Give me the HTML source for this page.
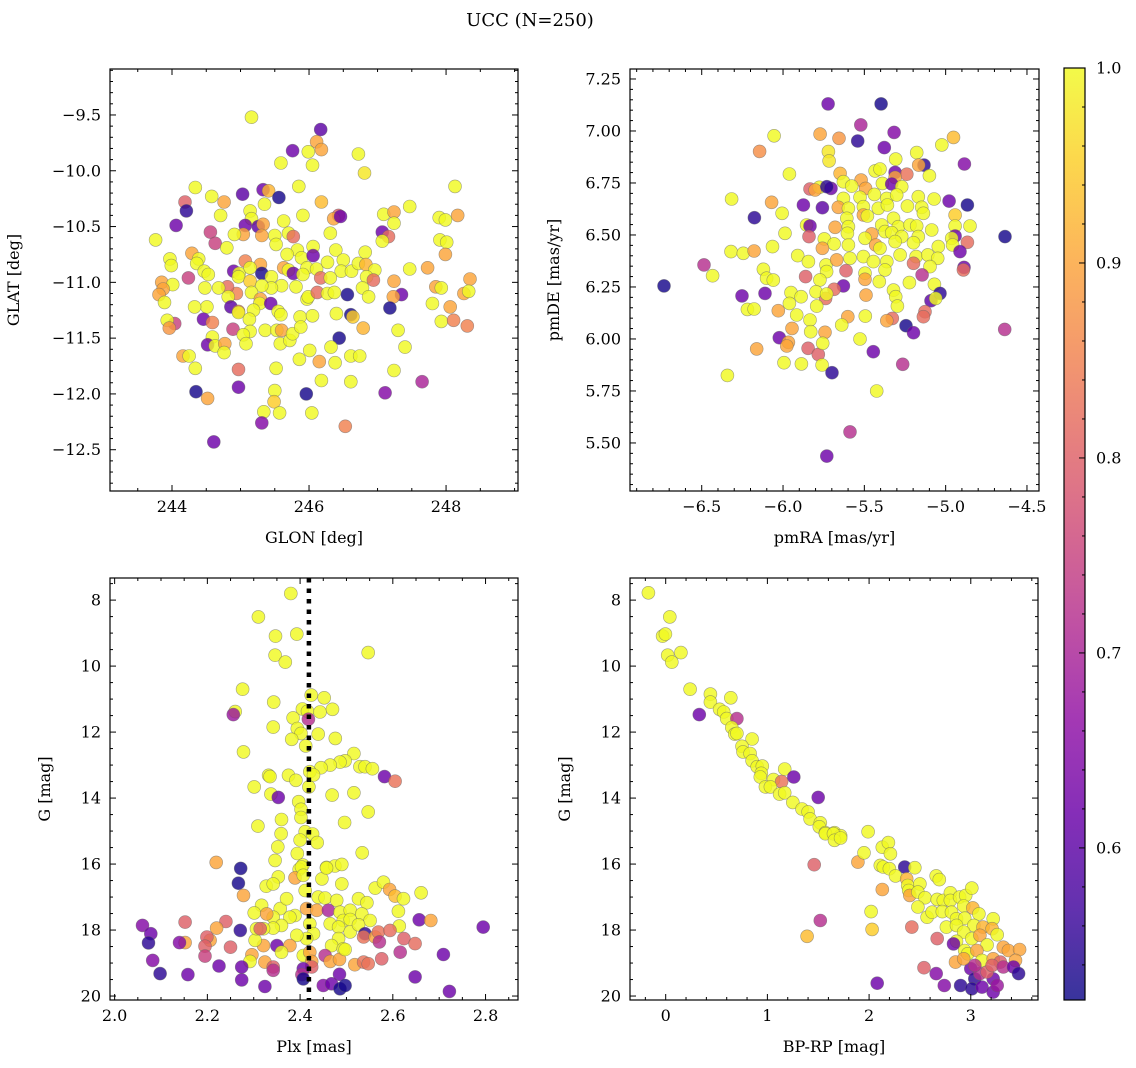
<!DOCTYPE html>
<html><head><meta charset="utf-8"><style>
html,body{margin:0;padding:0;background:#fff;}
svg{display:block;font-family:"DejaVu Serif","Liberation Serif",serif;}
</style></head><body>
<svg id="fig" width="1136" height="1068" viewBox="0 0 1136 1068" xmlns="http://www.w3.org/2000/svg">
<text x="530" y="26" text-anchor="middle" font-size="18">UCC (N=250)</text>
</svg>
<script>
// ---- Panel 1: GLON / GLAT ----
const glon=[245.16,246.17,246.11,246.18,245.76,245.99,245.59,246.05,246.72,246.81,244.34,245.85,245.03,245.33,245.41,245.56,244.58,244.76,244.19,244.21,245.35,246.18,244.71,245.91,246.43,246.36,246.46,244.06,243.76,244.56,244.63,245.14,245.16,245.07,245.04,244.91,245.26,245.33,245.31,245.50,245.52,245.63,245.70,245.77,246.31,244.80,244.29,244.39,243.97,243.99,244.36,244.47,244.53,244.24,243.85,244.01,243.87,243.81,243.89,245.07,245.29,244.90,244.98,245.31,245.14,244.97,245.14,245.45,245.63,245.70,245.77,245.83,245.68,245.89,246.06,246.06,245.97,246.11,246.27,246.39,246.50,246.47,246.62,246.72,246.82,246.83,246.96,246.84,246.94,246.17,246.31,245.91,245.81,245.60,245.45,245.31,245.16,244.94,244.81,244.68,244.48,244.82,244.51,244.33,244.86,244.97,244.97,245.29,245.28,245.44,245.19,245.13,245.55,245.59,245.87,245.97,245.99,246.05,246.12,246.27,246.37,246.56,246.78,246.87,246.40,246.61,246.64,246.79,244.46,244.59,244.04,243.93,243.96,244.89,245.14,245.04,245.36,245.53,245.60,245.58,245.72,245.76,245.88,244.59,244.52,244.63,244.77,244.76,245.08,246.44,246.32,247.30,247.40,246.61,246.74,246.38,246.15,246.01,245.86,244.16,244.25,244.34,244.97,245.52,246.18,246.61,247.24,244.35,244.52,244.97,245.50,245.49,245.96,245.34,245.57,246.04,245.31,246.53,244.61,247.11,247.65,247.07,247.16,247.07,247.09,247.24,247.24,247.47,248.13,247.90,247.99,248.17,247.91,248.01,247.99,247.47,247.73,247.24,247.35,247.23,247.18,247.85,247.93,247.80,248.06,248.35,248.26,248.33,247.93,248.11,248.31];
const glat=[-9.52,-9.63,-9.74,-9.81,-9.82,-9.83,-9.93,-9.95,-9.85,-10.02,-10.15,-10.14,-10.21,-10.17,-10.18,-10.24,-10.23,-10.28,-10.28,-10.36,-10.30,-10.28,-10.40,-10.40,-10.40,-10.43,-10.41,-10.49,-10.62,-10.55,-10.65,-10.36,-10.43,-10.49,-10.57,-10.57,-10.50,-10.48,-10.58,-10.58,-10.66,-10.45,-10.56,-10.59,-10.56,-10.69,-10.74,-10.79,-10.79,-10.85,-10.83,-10.90,-10.93,-10.96,-11.00,-11.02,-11.06,-11.11,-11.18,-10.81,-10.84,-10.90,-10.92,-10.92,-10.87,-10.95,-10.99,-10.95,-10.87,-10.89,-10.92,-10.71,-10.75,-10.78,-10.68,-10.76,-10.87,-10.88,-10.82,-10.71,-10.80,-10.90,-10.90,-10.83,-10.73,-10.84,-10.89,-10.95,-10.98,-10.96,-10.96,-10.93,-11.04,-11.03,-11.05,-11.03,-11.09,-11.10,-11.04,-11.05,-11.05,-11.13,-11.22,-11.22,-11.22,-11.26,-11.27,-11.15,-11.19,-11.19,-11.25,-11.33,-11.26,-11.29,-11.31,-11.15,-11.13,-11.30,-11.09,-11.10,-11.09,-11.11,-11.05,-11.13,-11.28,-11.29,-11.31,-11.41,-11.33,-11.36,-11.37,-11.34,-11.41,-11.42,-11.44,-11.47,-11.43,-11.43,-11.43,-11.55,-11.52,-11.46,-11.40,-11.49,-11.56,-11.57,-11.55,-11.63,-11.55,-11.50,-11.58,-11.43,-11.58,-11.66,-11.66,-11.72,-11.71,-11.61,-11.69,-11.66,-11.66,-11.77,-11.78,-11.77,-11.88,-11.89,-11.79,-11.98,-12.04,-11.94,-11.97,-12.07,-12.00,-12.16,-12.17,-12.17,-12.26,-12.29,-12.43,-11.99,-11.89,-10.55,-10.59,-10.63,-10.39,-10.37,-10.47,-10.32,-10.14,-10.42,-10.44,-10.40,-10.62,-10.64,-10.75,-10.88,-10.87,-10.99,-11.11,-11.13,-11.23,-11.04,-11.05,-11.19,-11.22,-10.97,-11.10,-11.08,-11.35,-11.34,-11.39];
const prob1=[1,0.6,0.9,0.9,0.62,1,1,1,1,0.98,1,1,0.6,0.62,0.92,0.53,1,0.9,0.8,0.55,1,0.93,1,1,0.8,0.9,0.62,0.62,1,0.75,0.75,1,1,0.62,0.9,1,0.6,0.9,0.9,1,1,1,1,0.82,1,1,0.9,1,1,1,1,1,1,0.75,0.9,1,0.9,0.9,1,0.85,0.9,0.62,1,0.53,1,1,0.95,1,0.9,1,0.62,1,1,1,1,0.62,1,1,1,1,1,1,1,1,1,0.92,1,1,0.82,0.82,1,1,1,1,1,1,1,0.85,0.82,1,1,1,1,1,0.6,0.85,1,0.9,1,0.62,1,1,1,1,1,1,1,1,0.82,1,1,0.53,1,1,1,0.53,0.95,0.92,0.62,0.85,0.75,1,0.88,0.75,1,1,1,1,0.9,1,1,1,1,1,0.62,1,0.9,1,1,0.53,1,1,1,1,1,1,0.9,1,1,0.9,1,1,0.82,1,1,1,1,0.53,0.9,0.62,1,0.95,0.53,1,1,1,0.65,0.85,0.62,0.65,0.7,0.62,0.82,1,1,0.9,1,1,1,1,1,0.9,1,1,0.9,1,0.9,0.9,0.62,0.9,0.53,0.9,1,1,0.9,0.9,0.9,1,1,0.85,0.85];

// ---- Panel 2: pmRA / pmDE ----
const pmra=[-5.723,-5.397,-5.522,-5.317,-6.055,-5.772,-5.656,-5.541,-5.377,-4.952,-5.024,-6.144,-5.721,-5.717,-5.307,-5.178,-5.133,-5.166,-4.885,-5.961,-5.649,-5.434,-5.404,-5.311,-5.239,-5.100,-5.311,-5.629,-5.520,-5.389,-5.332,-5.270,-5.834,-5.777,-5.803,-5.705,-5.731,-5.578,-5.492,-6.316,-6.070,-5.875,-5.758,-5.629,-5.527,-5.438,-5.362,-5.301,-5.168,-5.071,-4.979,-4.866,-6.006,-6.176,-5.660,-5.598,-5.506,-5.414,-5.358,-5.235,-5.147,-5.137,-4.942,-5.506,-5.481,-5.608,-5.321,-5.855,-5.834,-5.680,-5.598,-5.393,-5.291,-5.219,-5.178,-5.086,-4.942,-4.850,-4.635,-5.988,-5.840,-5.604,-5.455,-5.496,-5.373,-5.332,-5.270,-5.168,-4.942,-4.963,-5.746,-5.686,-6.320,-6.244,-6.178,-6.065,-5.758,-5.598,-5.430,-5.404,-5.311,-5.198,-5.045,-4.957,-4.866,-4.912,-6.486,-6.433,-6.732,-5.910,-5.844,-5.736,-5.670,-5.588,-5.506,-5.444,-5.362,-5.280,-5.182,-5.110,-5.049,-5.198,-5.096,-4.887,-4.891,-6.121,-6.101,-6.060,-5.861,-5.732,-5.613,-5.496,-5.373,-5.773,-5.496,-5.408,-5.223,-5.145,-5.069,-5.035,-5.090,-5.061,-5.629,-5.686,-5.738,-5.797,-5.951,-5.889,-5.732,-5.490,-5.321,-5.307,-5.297,-6.252,-6.111,-6.219,-6.178,-6.029,-5.961,-5.916,-5.793,-5.834,-5.602,-5.494,-5.328,-5.362,-5.127,-5.137,-5.639,-5.945,-5.830,-5.742,-5.244,-5.198,-4.637,-6.023,-5.967,-5.977,-6.162,-5.846,-5.783,-5.756,-5.527,-5.445,-5.994,-5.887,-5.760,-5.699,-5.264,-6.342,-5.424,-5.588,-5.731];
const pmde=[7.130,7.130,7.029,6.993,6.977,6.985,6.965,6.952,6.920,6.969,6.933,6.902,6.901,6.856,6.865,6.896,6.836,6.836,6.841,6.793,6.796,6.808,6.817,6.801,6.792,6.785,6.777,6.756,6.764,6.748,6.745,6.732,6.721,6.729,6.716,6.724,6.732,6.735,6.724,6.673,6.657,6.644,6.631,6.676,6.681,6.695,6.676,6.692,6.684,6.673,6.663,6.644,6.604,6.583,6.633,6.628,6.636,6.628,6.644,6.639,6.633,6.604,6.596,6.596,6.591,6.580,6.580,6.548,6.543,6.537,6.540,6.548,6.540,6.548,6.543,6.524,6.543,6.543,6.492,6.508,6.492,6.508,6.505,6.484,6.516,6.511,6.492,6.492,6.495,6.484,6.481,6.457,6.420,6.412,6.423,6.444,6.436,6.452,6.452,6.436,6.468,6.463,6.444,6.452,6.465,6.420,6.356,6.304,6.255,6.401,6.372,6.356,6.380,6.388,6.396,6.372,6.372,6.404,6.396,6.404,6.388,6.364,6.348,6.344,6.332,6.335,6.292,6.283,6.300,6.324,6.328,6.316,6.332,6.284,6.287,6.276,6.271,6.308,6.263,6.219,6.184,6.195,6.255,6.239,6.195,6.227,6.223,6.203,6.216,6.211,6.235,6.203,6.158,6.207,6.219,6.142,6.144,6.136,6.171,6.115,6.158,6.091,6.107,6.110,6.099,6.088,6.131,6.107,6.067,6.051,6.035,6.032,6.064,6.030,6.046,6.006,5.984,5.966,5.952,5.955,5.926,5.979,6.000,5.939,5.886,5.880,5.875,5.838,5.878,5.825,5.750,5.553,5.437];
const prob2=[0.62,0.53,0.7,0.65,1,0.9,0.88,0.55,0.62,0.93,1,0.87,0.98,0.98,1,1,0.55,0.9,0.65,1,0.92,1,1,0.62,0.83,1,0.9,1,0.9,1,0.62,1,0.8,1,0.9,0.62,0.55,1,0.9,1,0.9,0.62,0.6,1,1,1,1,1,1,1,0.62,0.53,1,0.55,0.9,1,1,1,1,1,1,1,0.95,0.9,1,1,1,1,0.62,0.9,1,1,1,1,1,1,1,1,0.53,1,0.8,1,0.9,1,1,1,1,1,0.62,1,1,1,1,1,0.9,1,0.9,1,0.9,1,1,1,1,1,0.82,0.62,0.72,1,0.53,1,1,1,0.9,1,1,1,1,1,1,1,1,0.82,1,0.62,0.82,1,1,1,0.8,1,0.8,1,1,1,0.9,1,1,0.72,1,0.55,0.6,1,0.62,0.82,0.82,1,1,1,1,0.9,1,1,1,0.62,0.62,1,1,0.9,1,1,1,1,0.9,1,0.82,0.9,0.82,0.82,1,0.9,1,0.9,0.53,0.62,0.72,0.62,0.9,0.9,0.9,0.8,0.8,1,1,0.62,1,1,1,0.55,0.72,1,1,0.72,0.62];

// ---- Panel 3: Plx / G ----
const plx=[2.380,2.310,2.347,2.393,2.547,2.346,2.368,2.276,2.424,2.452,2.343,2.260,2.256,2.405,2.416,2.443,2.470,2.385,2.418,2.342,2.394,2.402,2.439,2.382,2.476,2.412,2.278,2.516,2.497,2.486,2.465,2.445,2.421,2.429,2.529,2.540,2.556,2.582,2.605,2.332,2.335,2.375,2.391,2.301,2.419,2.337,2.353,2.469,2.516,2.397,2.402,2.402,2.547,2.360,2.496,2.309,2.411,2.427,2.359,2.400,2.437,2.352,2.394,2.534,2.219,2.272,2.406,2.398,2.457,2.475,2.490,2.267,2.278,2.353,2.327,2.342,2.389,2.403,2.407,2.411,2.447,2.457,2.490,2.439,2.454,2.479,2.526,2.544,2.562,2.580,2.593,2.605,2.623,2.661,2.612,2.614,2.657,2.682,2.795,2.317,2.301,2.357,2.371,2.389,2.378,2.342,2.328,2.360,2.342,2.321,2.414,2.436,2.421,2.429,2.461,2.486,2.508,2.533,2.493,2.508,2.551,2.465,2.483,2.508,2.526,2.540,2.537,2.562,2.569,2.594,2.571,2.624,2.648,2.616,2.709,2.483,2.468,2.493,2.414,2.393,2.378,2.350,2.321,2.303,2.360,2.306,2.271,2.314,2.296,2.292,2.324,2.342,2.342,2.407,2.421,2.425,2.425,2.407,2.404,2.407,2.454,2.465,2.485,2.497,2.518,2.537,2.547,2.576,2.485,2.450,2.468,2.486,2.497,2.324,2.274,2.274,2.225,2.250,2.240,2.220,2.206,2.199,2.195,2.195,2.152,2.152,2.140,2.060,2.078,2.073,2.082,2.098,2.158,2.648,2.722,2.346];
const gmag3=[7.80,8.51,9.09,9.03,9.59,9.67,9.88,10.70,10.88,10.96,11.09,11.38,11.47,11.30,11.37,11.39,11.31,11.57,11.61,11.85,11.89,12.04,12.06,12.22,12.19,12.42,12.60,12.65,12.87,12.91,13.00,13.08,13.20,13.30,13.05,13.05,13.11,13.35,13.49,13.31,13.35,13.31,13.46,13.66,13.66,13.88,13.98,13.91,13.84,14.11,14.34,14.59,14.42,14.65,14.74,14.85,15.02,15.09,15.08,15.27,15.35,15.48,15.68,15.66,15.95,16.13,16.03,16.16,16.10,16.06,16.01,16.58,16.95,16.39,16.67,16.60,16.42,16.09,16.34,16.80,16.45,16.12,16.60,17.00,17.03,17.10,17.05,17.17,16.73,16.55,16.77,16.97,17.05,16.87,17.43,17.88,17.69,17.71,17.91,17.25,17.48,17.35,17.05,17.56,17.61,17.61,17.51,17.86,17.94,17.96,17.35,17.40,17.81,18.11,17.40,17.46,17.40,17.51,17.71,17.68,17.71,17.81,17.91,18.06,17.84,18.11,18.21,18.21,18.06,18.01,18.36,18.26,18.41,18.67,18.74,18.26,18.47,18.57,18.26,18.16,18.47,18.47,18.47,18.31,18.67,17.96,18.01,17.96,18.75,18.95,18.97,19.12,19.22,18.77,18.67,18.95,19.12,19.17,19.35,19.48,18.77,18.95,18.89,18.59,19.05,18.97,19.02,18.87,19.34,19.68,19.63,19.78,19.68,19.71,19.12,19.51,19.09,18.52,17.74,17.94,18.31,18.21,18.49,18.79,17.76,18.38,18.38,17.86,18.11,18.39,18.92,19.32,19.35,19.42,19.86,15.89];
const prob3=[1,1,1,1,1,1,1,1,1,1,1,1,0.68,1,1,1,1,1,0.72,1,1,1,1,1,1,1,1,1,1,1,1,1,1,1,1,1,1,0.62,0.83,1,1,1,1,1,1,1,0.62,1,1,1,1,1,1,1,1,1,1,1,1,1,1,1,1,1,0.9,0.53,1,1,1,1,1,0.53,0.9,1,1,1,0.9,1,1,1,1,1,1,1,1,1,1,1,1,1,0.9,0.93,1,1,1,1,0.62,0.9,0.62,1,1,1,1,1,1,1,0.9,1,1,1,0.9,0.9,1,1,0.7,1,1,1,1,1,1,1,1,1,1,0.55,0.83,0.9,0.83,0.82,0.72,0.8,0.82,0.72,0.62,1,1,1,1,1,0.9,0.62,0.9,1,1,1,0.55,0.8,0.9,1,0.9,0.8,0.72,1,0.9,0.9,0.8,0.62,0.72,0.53,0.72,0.9,0.9,1,0.9,0.83,0.83,0.8,0.62,0.65,0.62,0.53,0.53,0.62,0.62,0.62,0.62,0.8,0.8,0.9,0.9,0.8,0.8,0.75,0.8,0.9,0.65,0.65,0.62,0.55,0.65,0.55,0.62,0.62,0.62,1];

// ---- Panel 4: BP-RP / G ----
const bprp=[-0.17,0.04,-0.03,-0.003,0.02,0.15,0.06,0.24,0.44,0.44,0.64,0.33,0.53,0.57,0.60,0.70,0.65,0.68,0.70,0.85,0.75,0.76,0.83,0.85,0.90,0.95,0.94,0.93,1.06,1.14,1.17,1.26,0.98,1.03,1.12,1.17,1.25,1.50,1.34,1.40,1.42,1.52,1.51,1.57,1.66,1.72,1.99,1.57,1.65,1.66,1.72,1.46,1.89,1.95,2.13,2.19,2.21,2.11,2.14,2.20,2.35,2.45,2.26,2.37,2.13,2.38,2.39,2.50,2.40,2.48,2.55,2.66,2.69,2.48,2.57,2.62,2.67,2.73,2.80,2.80,2.89,2.95,3.01,2.72,2.81,2.93,3.02,3.08,3.22,2.86,2.94,2.76,2.86,3.03,3.12,3.21,3.26,2.93,3.01,3.09,3.16,2.86,2.83,2.94,2.97,3.06,3.11,3.22,3.32,3.37,3.48,3.44,3.29,2.85,2.67,2.42,2.02,2.03,1.39,1.52,2.54,2.66,2.74,2.90,2.08,3.00,3.04,3.01,3.11,3.09,3.22,3.22,3.26,3.16,3.21,3.32,3.42,3.47,3.04,2.93];
const gmag4=[7.78,8.51,9.09,9.03,9.67,9.59,9.88,10.70,10.85,11.09,10.96,11.47,11.31,11.39,11.59,11.59,11.86,12.06,12.04,12.21,12.43,12.60,12.65,12.87,13.05,13.03,13.25,13.36,13.44,13.50,13.12,13.36,13.66,13.66,13.88,13.84,14.13,13.98,14.33,14.42,14.63,14.75,14.87,15.05,15.05,15.14,15.02,15.08,15.08,15.28,15.21,16.02,15.94,15.66,15.49,15.35,15.69,16.04,16.09,16.14,16.09,16.11,16.36,16.45,16.77,16.65,16.80,16.60,16.95,16.85,17.02,16.36,16.47,17.30,17.61,17.46,17.07,17.10,16.87,17.10,17.00,16.95,16.73,17.44,17.46,17.27,17.33,17.51,17.66,17.66,17.64,17.91,17.86,17.86,17.91,17.96,18.14,18.06,18.26,18.16,18.45,18.34,18.42,18.62,18.72,18.62,18.92,18.87,18.52,18.62,18.59,18.92,18.97,18.97,18.26,17.91,17.44,17.98,18.19,17.71,19.14,19.32,19.68,19.68,19.61,19.17,19.48,19.78,19.73,19.32,19.48,19.88,19.68,19.27,19.07,19.12,19.12,19.32,19.07,18.87];
const prob4=[1,1,1,1,1,1,1,1,1,1,1,0.62,1,1,1,0.72,1,1,1,1,1,1,1,1,1,1,1,1,1,0.83,1,0.62,1,1,1,1,1,0.62,1,1,1,1,1,1,1,1,1,1,1,1,1,0.8,0.9,1,1,1,1,1,1,1,0.55,1,1,0.92,0.9,1,1,1,0.9,1,1,1,1,1,1,1,1,1,1,1,1,1,1,1,1,1,0.92,1,1,1,1,1,1,1,0.92,0.92,1,1,1,0.9,1,1,0.62,1,1,0.9,1,0.9,0.9,0.9,0.9,0.9,0.8,0.9,0.8,0.82,1,0.95,0.93,0.72,0.8,0.65,0.65,0.55,0.62,0.62,0.55,0.55,0.62,0.72,0.62,0.62,0.68,0.8,0.8,0.72,0.62,0.55,0.72,0.9];

const plxLine=[2.419];
const cbTicks=["0.6","0.7","0.8","0.9","1.0"];
const pMin=0.522, pMax=1.0;

const NS="http://www.w3.org/2000/svg";
const svg=document.getElementById('fig');
function mk(tag,attrs,parent){const e=document.createElementNS(NS,tag);for(const k in attrs)e.setAttribute(k,attrs[k]);(parent||svg).appendChild(e);return e;}
const stops=[[13,8,135],[65,4,157],[106,0,168],[143,13,164],[177,42,144],[204,71,120],[225,100,98],[242,132,75],[252,166,54],[252,206,37],[240,249,33]];
function plasma(t){t=Math.max(0,Math.min(1,t));const f=t*10,i=Math.min(9,Math.floor(f)),r=f-i;const a=stops[i],b=stops[i+1];return 'rgb('+a.map((v,k)=>Math.round(v+(b[k]-v)*r)).join(',')+')';}
function pcol(p){return plasma((p-pMin)/(pMax-pMin));}
function fmt(v,d){const s=Math.abs(v).toFixed(d);return (v<-1e-9?'\u2212':'')+s;}

function panel(o){
  const g=mk('g',{});
  
  
  const sx=v=>o.L+(v-o.x0)/(o.x1-o.x0)*(o.R-o.L);
  const sy=v=>o.B-(v-o.y0)/(o.y1-o.y0)*(o.B-o.T);
  const clipId='c'+o.name;
  const cp=mk('clipPath',{id:clipId},g);mk('rect',{x:o.L,y:o.T,width:o.R-o.L,height:o.B-o.T},cp);
  const pts=mk('g',{'clip-path':'url(#'+clipId+')'},g);
  
  
  for(let i=0;i<o.xs.length;i++){
    const c=mk('circle',{cx:sx(o.xs[i]).toFixed(1),cy:sy(o.ys[i]).toFixed(1),r:6.5,fill:pcol(o.ps[i]),'fill-opacity':0.82,stroke:'#666','stroke-opacity':0.6,'stroke-width':0.6},pts);
    
    
  }
  if(o.vline){for(const v of o.vline){const l=mk('line',{x1:sx(v),x2:sx(v),y1:o.T,y2:o.B,stroke:'#000','stroke-width':4.5,'stroke-dasharray':'4.5 6'},pts);
    
    }}
  mk('rect',{x:o.L,y:o.T,width:o.R-o.L,height:o.B-o.T,fill:'none',stroke:'#000','stroke-width':1.2},g);
  const tk=mk('g',{stroke:'#000','stroke-width':1},g);
  const eps=1e-6;
  const xa=Math.min(o.x0,o.x1), xb=Math.max(o.x0,o.x1);
  const ya=Math.min(o.y0,o.y1), yb=Math.max(o.y0,o.y1);
  for(let v=Math.ceil(xa/o.xmin-eps)*o.xmin;v<=xb+eps;v+=o.xmin){
    const X=sx(v);const isMaj=Math.abs(v/o.xmaj-Math.round(v/o.xmaj))<1e-4;const len=isMaj?6:3;
    mk('line',{x1:X,x2:X,y1:o.B,y2:o.B-len},tk);mk('line',{x1:X,x2:X,y1:o.T,y2:o.T+len},tk);
    if(isMaj){const t=mk('text',{x:X,y:o.B+21,'text-anchor':'middle','font-size':16},g);t.textContent=fmt(v,o.xd);
      
      }
  }
  for(let v=Math.ceil(ya/o.ymin-eps)*o.ymin;v<=yb+eps;v+=o.ymin){
    const Y=sy(v);const isMaj=Math.abs(v/o.ymaj-Math.round(v/o.ymaj))<1e-4;const len=isMaj?6:3;
    mk('line',{x1:o.L,x2:o.L+len,y1:Y,y2:Y},tk);mk('line',{x1:o.R,x2:o.R-len,y1:Y,y2:Y},tk);
    if(isMaj){const t=mk('text',{x:o.L-9,y:Y+5.5,'text-anchor':'end','font-size':16},g);t.textContent=fmt(v,o.yd);
      
      }
  }
  const xl=mk('text',{x:(o.L+o.R)/2,y:o.B+52,'text-anchor':'middle','font-size':16},g);xl.textContent=o.xlab;
  
  
  const yx=o.L-o.ylabOff, yc=(o.T+o.B)/2;
  const yl=mk('text',{x:yx,y:yc,'text-anchor':'middle','font-size':16,transform:'rotate(-90 '+yx+' '+yc+')'},g);yl.textContent=o.ylab;
  
  
}

panel({name:'glon-glat-panel',L:110,R:518,T:69,B:491,x0:243.095,x1:249.05,y0:-12.87,y1:-9.088,xs:glon,ys:glat,ps:prob1,xmaj:2,xmin:0.5,ymaj:0.5,ymin:0.1,xd:0,yd:1,xlab:'GLON [deg]',ylab:'GLAT [deg]',ylabOff:91});
panel({name:'pm-panel',L:630,R:1039,T:69,B:491,x0:-6.941,x1:-4.426,y0:5.269,y1:7.298,xs:pmra,ys:pmde,ps:prob2,xmaj:0.5,xmin:0.1,ymaj:0.25,ymin:0.05,xd:1,yd:2,xlab:'pmRA [mas/yr]',ylab:'pmDE [mas/yr]',ylabOff:71});
panel({name:'plx-g-panel',L:110,R:518,T:578,B:1000,x0:1.990,x1:2.870,y0:20.12,y1:7.33,xs:plx,ys:gmag3,ps:prob3,xmaj:0.2,xmin:0.05,ymaj:2,ymin:0.5,xd:1,yd:0,xlab:'Plx [mas]',ylab:'G [mag]',ylabOff:60,vline:plxLine});
panel({name:'cmd-panel',L:630,R:1038,T:578,B:1000,x0:-0.351,x1:3.661,y0:20.12,y1:7.33,xs:bprp,ys:gmag4,ps:prob4,xmaj:1,xmin:0.2,ymaj:2,ymin:0.5,xd:0,yd:0,xlab:'BP-RP [mag]',ylab:'G [mag]',ylabOff:60});

// ---- Colorbar ----
(function(){
  const L=1064,R=1085,T=68,B=1000;
  const cy=p=>T+(pMax-p)/(pMax-pMin)*(B-T);
  const g=mk('g',{});
  
  
  const defs=mk('defs',{},g);
  const lg=mk('linearGradient',{id:'cbg',x1:0,y1:1,x2:0,y2:0},defs);
  for(let i=0;i<=20;i++){mk('stop',{offset:i/20,'stop-color':plasma(i/20)},lg);}
  mk('rect',{x:L,y:T,width:R-L,height:B-T,fill:'url(#cbg)','fill-opacity':0.82},g);
  mk('rect',{x:L,y:T,width:R-L,height:B-T,fill:'none',stroke:'#000','stroke-width':1.2},g);
  for(let v=0.54;v<=1.0001;v+=0.02){const Y=cy(v);const maj=Math.abs(v*10-Math.round(v*10))<1e-4;
    mk('line',{x1:R,x2:R-(maj?6:3),y1:Y,y2:Y,stroke:'#000','stroke-width':1},g);}
  for(const s of cbTicks){const Y=cy(parseFloat(s));const t=mk('text',{x:R+11,y:Y+5.5,'font-size':16},g);t.textContent=s;
    
    }
})();
</script>
</body></html>
